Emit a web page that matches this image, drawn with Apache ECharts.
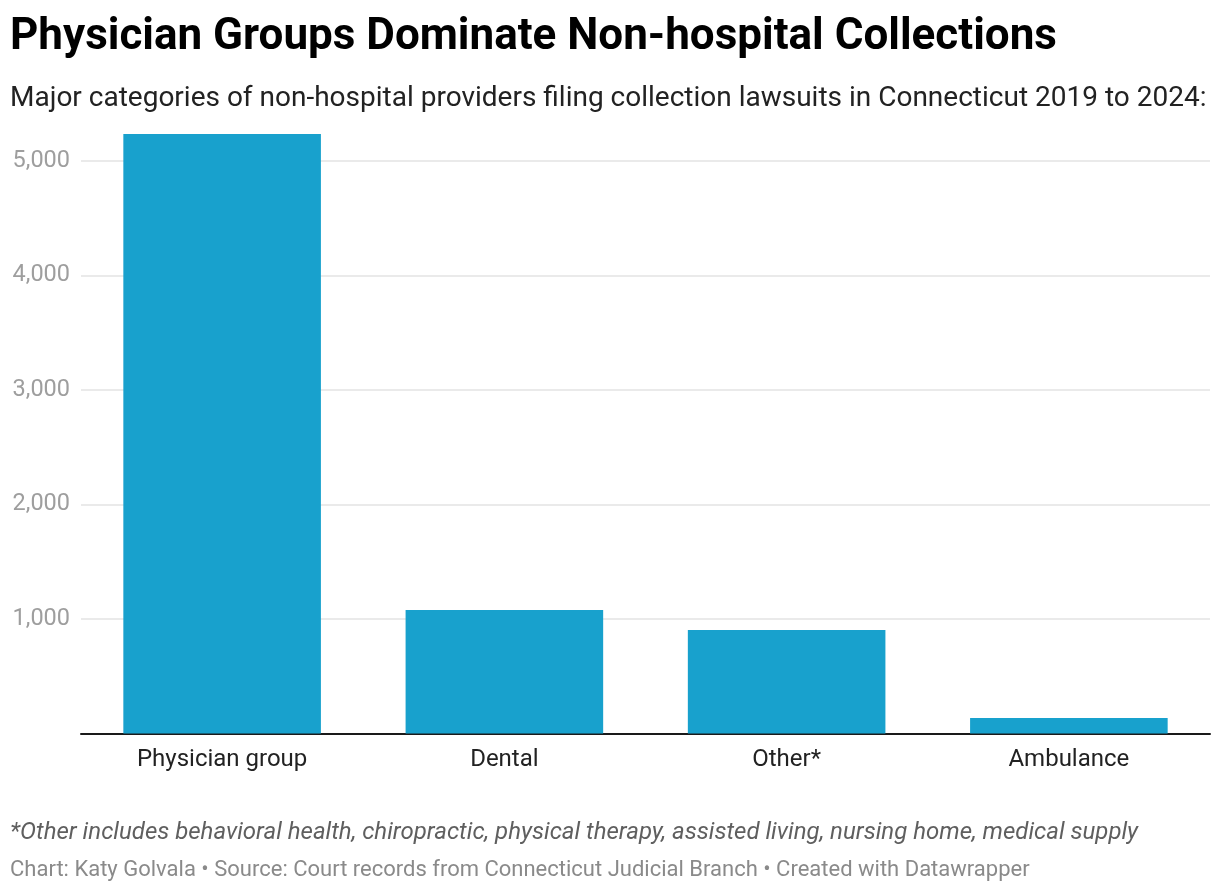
<!DOCTYPE html>
<html>
<head>
<meta charset="utf-8">
<script src="https://cdn.jsdelivr.net/npm/echarts@6/dist/echarts.min.js"></script>
<style>
  html, body { margin: 0; padding: 0; background: #fff; }
  #chart { width: 1220px; height: 892px; }
</style>
</head>
<body>
<div id="chart"></div>
<script>
// data
var categories = ['Physician group', 'Dental', 'Other*', 'Ambulance'];
var lawsuits = [5236, 1079, 904, 135];
var yTicks = [1000, 2000, 3000, 4000, 5000];

var myChart = echarts.init(document.getElementById('chart'));

var option = {
    backgroundColor: '#ffffff',
    animation: false,
    textStyle: { fontFamily: 'Roboto' },
    title: [
        {
            text: 'Physician Groups Dominate Non-hospital Collections',
            left: 5,
            top: 11,
            textStyle: { fontFamily: 'Roboto', fontSize: 44, fontWeight: 'bold', color: '#000' }
        },
        {
            text: 'Major categories of non-hospital providers filing collection lawsuits in Connecticut 2019 to 2024:',
            left: 5,
            top: 80,
            textStyle: { fontFamily: 'Roboto', fontSize: 28, fontWeight: 'normal', color: '#222' }
        },
        {
            text: '*Other includes behavioral health, chiropractic, physical therapy, assisted living, nursing home, medical supply',
            left: 5,
            top: 816,
            textStyle: { fontFamily: 'Roboto', fontSize: 24, fontStyle: 'italic', fontWeight: 'normal', color: '#5f5f5f' }
        },
        {
            text: 'Chart: Katy Golvala \u2022 Source: Court records from Connecticut Judicial Branch \u2022 Created with Datawrapper',
            left: 5,
            top: 854,
            textStyle: { fontFamily: 'Roboto', fontSize: 22, fontWeight: 'normal', color: '#8a8a8a' }
        }
    ],
    grid: {
        left: 81,
        right: 10,
        top: 132.4,
        bottom: 158.5,
        containLabel: false
    },
    xAxis: {
        type: 'category',
        data: categories,
        axisLine: { show: true, lineStyle: { color: '#1a1a1a', width: 2 } },
        axisTick: { show: false },
        axisLabel: { color: '#222', fontSize: 24, margin: 14, fontFamily: 'Roboto' }
    },
    yAxis: {
        type: 'value',
        min: 0,
        max: 5250,
        interval: 1000,
        axisLine: { show: false },
        axisTick: { show: false },
        splitLine: { show: true, showMinLine: false, showMaxLine: false, lineStyle: { color: '#e3e3e3', width: 1.5 } },
        axisLabel: {
            showMinLabel: false,
            showMaxLabel: false,
            color: '#9e9e9e',
            fontSize: 23.5,
            margin: 11,
            fontFamily: 'Roboto',
            formatter: function (v) {
                return yTicks.indexOf(v) >= 0 ? v.toLocaleString('en-US') : '';
            }
        }
    },
    series: [
        {
            type: 'bar',
            data: lawsuits,
            barCategoryGap: '30%',
            itemStyle: { color: '#18a1cd' },
            z: 1
        }
    ]
};

myChart.setOption(option);
</script>
</body>
</html>
